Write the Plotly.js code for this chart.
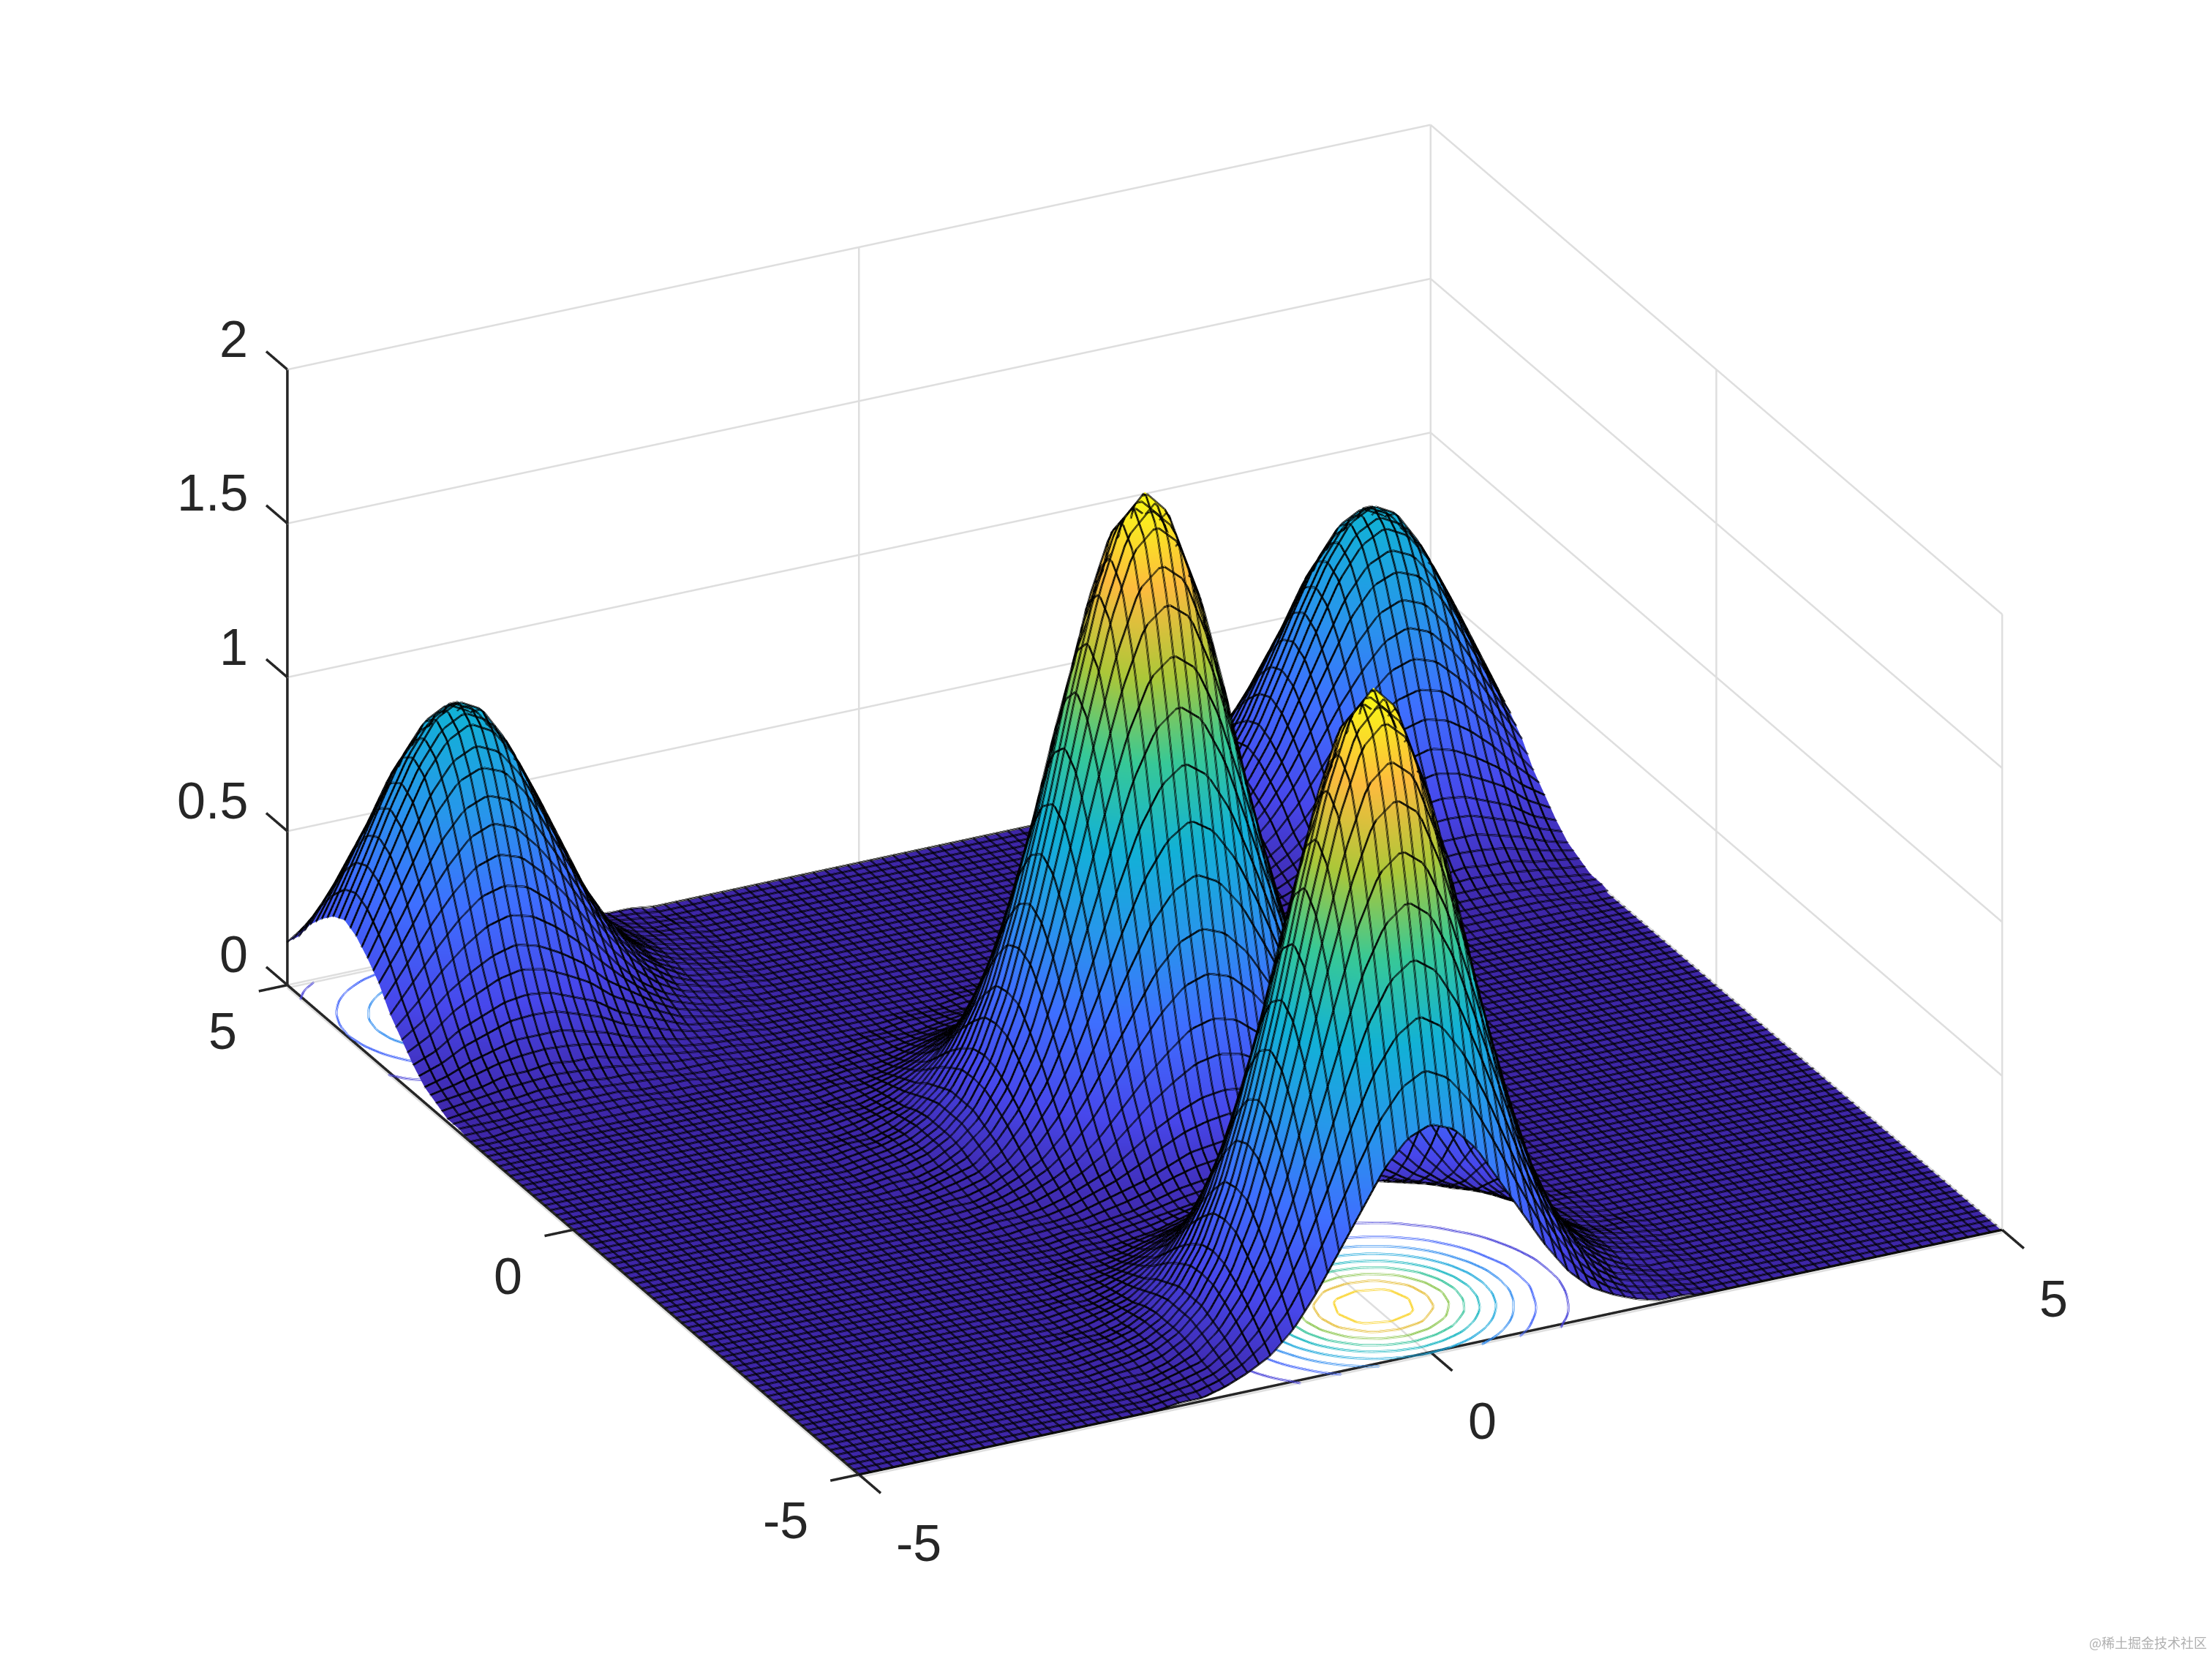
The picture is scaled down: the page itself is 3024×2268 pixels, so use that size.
<!DOCTYPE html>
<html><head><meta charset="utf-8">
<script src="https://cdn.plot.ly/plotly-3.0.1.min.js"></script>
<style>html,body{margin:0;padding:0;background:#fff}#c{width:3024px;height:2268px}</style>
</head><body><div id="c"></div>
<script>
const gridX = [-5,-4.8,-4.6,-4.4,-4.2,-4,-3.8,-3.6,-3.4,-3.2,-3,-2.8,-2.6,-2.4,-2.2,-2,-1.8,-1.6,-1.4,-1.2,-1,-0.8,-0.6,-0.4,-0.2,0,0.2,0.4,0.6,0.8,1,1.2,1.4,1.6,1.8,2,2.2,2.4,2.6,2.8,3,3.2,3.4,3.6,3.8,4,4.2,4.4,4.6,4.8,5];
const gridY = gridX.slice();
const axisTicks = [-5,0,5];
const axisTickText = ['-5','0','5'];
const heightTicks = [0,0.5,1,1.5,2];
const heightTickText = ['0','0.5','1','1.5','2'];
const floorLevels = [0.2,0.4,0.6,0.8,1.0,1.2,1.4,1.6,1.8];
const floorColors = ['#4640d8','#3f62fa','#2f8cf0','#1ca8dc','#14b5c0','#35c49a','#8dc750','#e6bf3c','#fad42a'];

const r736 = [0,0,0,0,0,0,0,0,0,0,0,0,0,0,.01,.01,.03,.06,.10,.17,.27,.39,.51,.63,.71,.74,.71,.63,.51,.39,.27,.17,.10,.06,.03,.01,.01,0,0,0,0,0,0,0,0,0,0,0,0,0,0];
const r1055 = [0,0,0,0,0,0,0,0,0,0,0,0,0,0,.01,.02,.04,.08,.15,.25,.39,.56,.74,.90,1.01,1.06,1.01,.90,.74,.56,.39,.25,.15,.08,.04,.02,.01,0,0,0,0,0,0,0,0,0,0,0,0,0,0];
const r1395 = [0,0,0,0,0,0,0,0,0,0,0,0,0,0,.01,.03,.05,.11,.20,.33,.51,.74,.97,1.19,1.34,1.40,1.34,1.19,.97,.74,.51,.33,.20,.11,.05,.03,.01,0,0,0,0,0,0,0,0,0,0,0,0,0,0];
const r1704 = [0,0,0,0,0,0,0,0,0,0,0,0,0,.01,.01,.03,.07,.13,.24,.40,.63,.90,1.19,1.45,1.64,1.70,1.64,1.45,1.19,.90,.63,.40,.24,.13,.07,.03,.01,.01,0,0,0,0,0,0,0,0,0,0,0,0,0];
const r1922 = [0,0,0,0,0,0,0,0,0,0,0,0,0,.01,.02,.04,.08,.15,.27,.46,.71,1.01,1.34,1.64,1.85,1.92,1.85,1.64,1.34,1.01,.71,.46,.27,.15,.08,.04,.02,.01,0,0,0,0,0,0,0,0,0,0,0,0,0];
const r2000 = [0,0,0,0,0,0,0,0,0,0,0,0,0,.01,.02,.04,.08,.15,.28,.47,.74,1.05,1.40,1.70,1.92,2,1.92,1.70,1.40,1.05,.74,.47,.28,.15,.08,.04,.02,.01,0,0,0,0,0,0,0,0,0,0,0,0,0];
const r475 = [0,0,0,0,0,0,0,0,0,0,0,0,0,0,0,.01,.02,.04,.07,.11,.17,.25,.33,.40,.46,.48,.46,.40,.33,.25,.17,.11,.07,.04,.02,.01,0,0,0,0,0,0,0,0,0,0,0,0,0,0,0];
const r284 = [0,0,0,0,0,0,0,0,0,0,0,0,0,0,0,.01,.01,.02,.04,.07,.10,.15,.20,.24,.27,.28,.27,.24,.20,.15,.10,.07,.04,.02,.01,.01,0,0,0,0,0,0,0,0,0,0,0,0,0,0,0];
const r161 = [0,0,0,0,0,0,0,0,0,0,0,0,0,0,0,0,.01,.01,.02,.04,.06,.08,.11,.14,.15,.16,.15,.14,.11,.08,.06,.04,.02,.01,.01,0,0,0,0,0,0,0,0,0,0,0,0,0,0,0,0];
const r094 = [0,0,0,0,0,0,0,0,0,0,0,0,0,0,0,0,0,.01,.01,.02,.03,.05,.07,.08,.09,.09,.09,.08,.07,.05,.03,.02,.01,.01,0,0,0,0,0,0,0,0,0,0,0,0,0,0,0,0,0];
const r073 = [0,0,0,0,0,0,0,0,0,0,0,0,0,0,0,0,0,.01,.01,.02,.03,.04,.05,.06,.07,.07,.07,.06,.05,.04,.03,.02,.01,.01,0,0,0,0,0,0,0,0,0,0,0,0,0,0,0,0,0];
const y16 = [0,0,0,0,0,0,0,0,0,0,0,0,0,0,0,0,.01,.01,.02,.04,.06,.08,.11,.13,.15,.16,.15,.13,.11,.08,.06,.04,.02,.01,.01,0,0,0,0,0,0,0,0,0,0,0,0,0,0,0,0];
const y18 = [0,0,.01,.01,.01,.01,.01,.01,.01,0,0,0,0,0,0,0,0,.01,.01,.02,.03,.04,.05,.07,.07,.08,.07,.07,.05,.04,.03,.02,.01,.01,0,0,0,0,0,0,0,0,.01,.01,.01,.01,.01,.01,.01,0,0];
const y20 = [.01,.01,.01,.02,.02,.02,.02,.02,.01,.01,.01,0,0,0,0,0,0,0,.01,.01,.01,.02,.03,.03,.04,.04,.04,.03,.03,.02,.01,.01,.01,0,0,0,0,0,0,0,.01,.01,.01,.02,.02,.02,.02,.02,.01,.01,.01];
const y22 = [.01,.02,.03,.03,.04,.04,.04,.03,.03,.02,.01,.01,.01,0,0,0,0,0,0,0,.01,.01,.01,.01,.02,.02,.02,.01,.01,.01,.01,0,0,0,0,0,0,0,.01,.01,.01,.02,.03,.03,.04,.04,.04,.03,.03,.02,.01];
const y24 = [.03,.04,.05,.07,.07,.08,.07,.07,.05,.04,.03,.02,.01,.01,0,0,0,0,0,0,0,0,0,.01,.01,.01,.01,.01,0,0,0,0,0,0,0,0,0,.01,.01,.02,.03,.04,.05,.07,.07,.08,.07,.07,.05,.04,.03];
const y26 = [.05,.07,.10,.12,.14,.14,.14,.12,.10,.07,.05,.03,.02,.01,.01,0,0,0,0,0,0,0,0,0,0,0,0,0,0,0,0,0,0,0,0,0,.01,.01,.02,.03,.05,.07,.10,.12,.14,.14,.14,.12,.10,.07,.05];
const y28 = [.09,.12,.17,.20,.23,.24,.23,.20,.17,.12,.09,.06,.03,.02,.01,0,0,0,0,0,0,0,0,0,0,0,0,0,0,0,0,0,0,0,0,0,.01,.02,.03,.06,.09,.12,.17,.20,.23,.24,.23,.20,.17,.12,.09];
const y30 = [.14,.19,.26,.31,.35,.37,.35,.31,.26,.19,.14,.09,.05,.03,.01,.01,0,0,0,0,0,0,0,0,0,0,0,0,0,0,0,0,0,0,0,.01,.01,.03,.05,.09,.14,.19,.26,.31,.35,.37,.35,.31,.26,.19,.14];
const y32 = [.19,.28,.37,.45,.51,.53,.51,.45,.37,.28,.19,.12,.07,.04,.02,.01,0,0,0,0,0,0,0,0,0,0,0,0,0,0,0,0,0,0,0,.01,.02,.04,.07,.12,.19,.28,.37,.45,.51,.53,.51,.45,.37,.28,.19];
const y34 = [.26,.37,.49,.59,.67,.70,.67,.59,.49,.37,.26,.17,.10,.05,.03,.01,.01,0,0,0,0,0,0,0,0,0,0,0,0,0,0,0,0,0,.01,.01,.03,.05,.10,.17,.26,.37,.49,.59,.67,.70,.67,.59,.49,.37,.26];
const y36 = [.31,.45,.59,.73,.82,.85,.82,.73,.59,.45,.31,.20,.12,.07,.03,.02,.01,0,0,0,0,0,0,0,0,0,0,0,0,0,0,0,0,0,.01,.02,.03,.07,.12,.20,.31,.45,.59,.73,.82,.85,.82,.73,.59,.45,.31];
const y38 = [.35,.51,.67,.82,.92,.96,.92,.82,.67,.51,.35,.23,.14,.07,.04,.02,.01,0,0,0,0,0,0,0,0,0,0,0,0,0,0,0,0,0,.01,.02,.04,.07,.14,.23,.35,.51,.67,.82,.92,.96,.92,.82,.67,.51,.35];
const y40 = [.37,.53,.70,.85,.96,1,.96,.85,.70,.53,.37,.24,.14,.08,.04,.02,.01,0,0,0,0,0,0,0,0,0,0,0,0,0,0,0,0,0,.01,.02,.04,.08,.14,.24,.37,.53,.70,.85,.96,1,.96,.85,.70,.53,.37];

const zRows = [r736,r1055,r1395,r1704,r1922,r2000,r1922,r1704,r1395,r1055,r736,r475,r284,r161,r094,r073,r094,r161,r284,r475,r736,r1055,r1395,r1704,r1922,r2000,r1922,r1704,r1395,r1055,r736,r475,r284,y16,y18,y20,y22,y24,y26,y28,y30,y32,y34,y36,y38,y40,y38,y36,y34,y32,y30];

const parula = [[0,'#3e26a8'],[0.111,'#4747eb'],[0.238,'#3e6fff'],[0.365,'#2796eb'],[0.492,'#12b1d6'],[0.619,'#37c897'],[0.746,'#abc739'],[0.873,'#fcbb3e'],[1,'#f9fb15']];
const FONT = {family:'"Liberation Sans",Arial,sans-serif',size:70,color:'#262626'};
const XMIN=axisTicks[0], XMAX=axisTicks[2], ZMAX=heightTicks[4];
const INK='#262626', GRID='#dedede';

function hiddenAxis(range){return {range:range,autorange:false,showgrid:false,showline:false,showticklabels:false,ticks:'',zeroline:false,showbackground:false,showspikes:false,title:{text:''}};}

const plainLight={ambient:1,diffuse:0,specular:0,fresnel:0,roughness:1};
function moved(dx,dy,dz,lift){return {x:gridX.map(v=>v+dx),y:gridY.map(v=>v+dy),z:zRows.map(r=>r.map(v=>v+dz+(lift||0)))};}
// colored sheet, pushed slightly back along the line of sight so the mesh lines sit in front of it
const sheet=Object.assign(moved(0.0127,0.0253,-0.005),{type:'surface',cmin:-0.005,cmax:1.995,colorscale:parula,showscale:false,hoverinfo:'skip',lighting:plainLight});
function meshLevels(off){return {show:true,start:XMIN+off,end:XMAX+off,size:0.1,color:'#000',width:1,usecolormap:false,highlight:false};}
function meshTrace(o){return Object.assign(moved(o[0],o[1],o[2]),{
  type:'surface',cmin:0,cmax:2,colorscale:parula,showscale:false,hoverinfo:'skip',hidesurface:true,
  contours:{x:meshLevels(o[0]),y:meshLevels(o[1])}});}
const meshOffsets=[[0,0,0],[0,0,0.003],[0,0,-0.003],[-0.0062,0.0031,0],[0.0062,-0.0031,0]];

// floor contours: a copy lifted above the z range, so only its projection on the floor is seen
const LIFT=5;
function floorTrace(level,color,o){return Object.assign(moved(o[0],o[1],0,LIFT),{
  type:'surface',cmin:LIFT,cmax:LIFT+2,colorscale:parula,showscale:false,hoverinfo:'skip',hidesurface:true,
  contours:{z:{show:true,start:LIFT+level,end:LIFT+level+0.05,size:0.1,color:color,usecolormap:false,width:1,highlight:false,project:{z:true}}}});}
const ringOffsets=[[0,0],[0.0084,0.0168],[-0.0084,-0.0168],[-0.007,0.0035],[0.007,-0.0035]];
const floorTraces=[];
floorLevels.forEach((l,i)=>ringOffsets.forEach(o=>floorTraces.push(floorTrace(l,floorColors[i],o))));

function lineTrace(segs,color,width){
  const x=[],y=[],z=[];
  segs.forEach(s=>{x.push(s[0][0],s[1][0],null);y.push(s[0][1],s[1][1],null);z.push(s[0][2],s[1][2],null);});
  return {type:'scatter3d',mode:'lines',x:x,y:y,z:z,line:{color:color,width:width},hoverinfo:'skip',showlegend:false,connectgaps:false};
}
const FLOOR=-0.009;
const gridSegs=[];
heightTicks.forEach(h=>{gridSegs.push([[XMIN,XMAX,h],[XMAX,XMAX,h]],[[XMAX,XMAX,h],[XMAX,XMIN,h]]);});
axisTicks.forEach(v=>{
  gridSegs.push([[v,XMAX,FLOOR],[v,XMAX,ZMAX]],[[XMAX,v,FLOOR],[XMAX,v,ZMAX]]);
  gridSegs.push([[v,XMIN,FLOOR],[v,XMAX,FLOOR]],[[XMIN,v,FLOOR],[XMAX,v,FLOOR]]);
});
const axisSegs=[[[XMIN,XMIN,0],[XMAX,XMIN,0]],[[XMIN,XMIN,0],[XMIN,XMAX,0]],[[XMIN,XMAX,0],[XMIN,XMAX,ZMAX]]];
axisTicks.forEach(v=>{
  axisSegs.push([[v,XMIN,0],[v,XMIN-0.38,0]]);
  axisSegs.push([[XMIN,v,0],[XMIN-0.25,v,0]]);
});
heightTicks.forEach(h=>axisSegs.push([[XMIN,XMAX,h],[XMIN,XMAX+0.37,h]]));

const labels=[];
axisTicks.forEach((v,i)=>{
  labels.push({x:v,y:XMIN,z:0,text:axisTickText[i],xanchor:'left',yanchor:'middle',xshift:49,yshift:-95});
  labels.push({x:XMIN,y:v,z:0,text:axisTickText[i],xanchor:'right',yanchor:'middle',xshift:-67,yshift:-64});
});
heightTicks.forEach((h,i)=>labels.push({x:XMIN,y:XMAX,z:h,text:heightTickText[i],xanchor:'right',yanchor:'middle',xshift:-52,yshift:41}));
labels.forEach(a=>{a.showarrow=false;a.font=FONT;});

Plotly.newPlot('c',[sheet].concat(meshOffsets.map(meshTrace),floorTraces,gridSegs.map(s=>lineTrace([s],GRID,5)),axisSegs.map(s=>lineTrace([s],INK,7))),{
  width:3024,height:2268,margin:{l:0,r:0,t:0,b:0},paper_bgcolor:'#fff',showlegend:false,
  scene:{
    domain:{x:[0.035,1],y:[0.035,1]},
    aspectmode:'manual',aspectratio:{x:1.788,y:1.788,z:0.8567},
    camera:{projection:{type:'orthographic'},center:{x:0,y:0,z:0},up:{x:0,y:0,z:1},eye:{x:-3.03,y:-6.06,z:3.21}},
    xaxis:hiddenAxis([-5.6,5.6]),yaxis:hiddenAxis([-5.6,5.6]),zaxis:hiddenAxis([-0.01,2.004]),
    annotations:labels
  },
  annotations:[{xref:'paper',yref:'paper',x:0.9985,y:0.0035,xanchor:'right',yanchor:'bottom',showarrow:false,
    text:'@稀土掘金技术社区',font:{family:'"Noto Sans CJK SC",sans-serif',size:18,color:'#b0b0b0'}}]
},{displayModeBar:false});
</script></body></html>
